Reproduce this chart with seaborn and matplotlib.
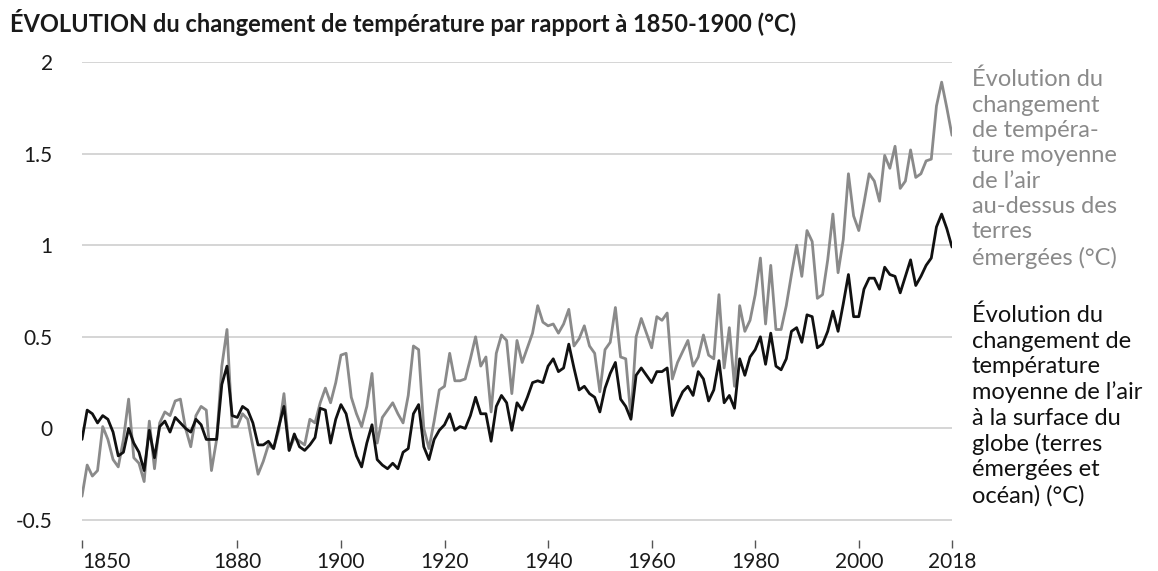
import numpy as np
import pandas as pd
import matplotlib
matplotlib.use("Agg")
import matplotlib.pyplot as plt
import seaborn as sns

# Temperature change relative to 1850-1900
years = list(range(1850, 2019))

land = [
    -0.37, -0.20, -0.26, -0.23, 0.01, -0.06, -0.17, -0.21, -0.06, 0.16,   # 1850s
    -0.16, -0.19, -0.29, 0.04, -0.22, 0.03, 0.09, 0.07, 0.15, 0.16,       # 1860s
    0.00, -0.10, 0.07, 0.12, 0.10, -0.23, -0.06, 0.34, 0.54, 0.01,        # 1870s
    0.01, 0.08, 0.05, -0.10, -0.25, -0.18, -0.09, -0.11, -0.01, 0.19,     # 1880s
    -0.12, -0.05, -0.07, -0.09, 0.05, 0.03, 0.14, 0.22, 0.14, 0.25,       # 1890s
    0.40, 0.41, 0.17, 0.08, 0.01, 0.12, 0.30, -0.08, 0.06, 0.10,          # 1900s
    0.14, 0.08, 0.03, 0.18, 0.45, 0.43, 0.00, -0.11, 0.04, 0.21,          # 1910s
    0.23, 0.41, 0.26, 0.26, 0.27, 0.38, 0.50, 0.34, 0.39, 0.09,           # 1920s
    0.41, 0.51, 0.48, 0.19, 0.48, 0.36, 0.44, 0.52, 0.67, 0.58,           # 1930s
    0.56, 0.57, 0.52, 0.57, 0.65, 0.45, 0.49, 0.56, 0.45, 0.41,           # 1940s
    0.20, 0.43, 0.47, 0.66, 0.39, 0.38, 0.06, 0.50, 0.60, 0.52,           # 1950s
    0.44, 0.61, 0.59, 0.63, 0.27, 0.36, 0.42, 0.48, 0.34, 0.39,           # 1960s
    0.51, 0.40, 0.38, 0.73, 0.33, 0.55, 0.23, 0.67, 0.53, 0.59,           # 1970s
    0.73, 0.93, 0.57, 0.89, 0.54, 0.54, 0.67, 0.84, 1.00, 0.83,           # 1980s
    1.08, 1.02, 0.71, 0.73, 0.92, 1.17, 0.85, 1.03, 1.39, 1.16,           # 1990s
    1.08, 1.23, 1.39, 1.35, 1.24, 1.49, 1.42, 1.54, 1.31, 1.35,           # 2000s
    1.52, 1.37, 1.39, 1.46, 1.47, 1.76, 1.89, 1.75, 1.60,                 # 2010s
]

globe = [
    -0.06, 0.10, 0.08, 0.03, 0.07, 0.05, -0.02, -0.15, -0.13, 0.00,
    -0.08, -0.13, -0.23, -0.01, -0.16, 0.01, 0.04, -0.02, 0.06, 0.03,
    0.00, -0.02, 0.05, 0.02, -0.06, -0.06, -0.06, 0.24, 0.34, 0.07,
    0.06, 0.12, 0.10, 0.03, -0.09, -0.09, -0.07, -0.11, 0.01, 0.12,
    -0.12, -0.03, -0.10, -0.12, -0.09, -0.05, 0.11, 0.10, -0.08, 0.05,
    0.13, 0.08, -0.05, -0.15, -0.21, -0.08, 0.02, -0.17, -0.20, -0.22,
    -0.19, -0.22, -0.13, -0.11, 0.08, 0.13, -0.10, -0.17, -0.06, -0.01,
    0.02, 0.08, -0.01, 0.01, 0.00, 0.07, 0.17, 0.08, 0.08, -0.07,
    0.12, 0.18, 0.14, -0.01, 0.14, 0.10, 0.17, 0.25, 0.26, 0.25,
    0.34, 0.38, 0.31, 0.33, 0.46, 0.33, 0.21, 0.23, 0.19, 0.17,
    0.09, 0.22, 0.30, 0.36, 0.16, 0.12, 0.05, 0.29, 0.33, 0.29,
    0.25, 0.31, 0.31, 0.33, 0.07, 0.14, 0.20, 0.23, 0.18, 0.31,
    0.27, 0.15, 0.21, 0.37, 0.14, 0.18, 0.11, 0.38, 0.29, 0.39,
    0.43, 0.50, 0.35, 0.52, 0.34, 0.32, 0.38, 0.53, 0.55, 0.47,
    0.62, 0.61, 0.44, 0.46, 0.53, 0.64, 0.53, 0.68, 0.84, 0.61,
    0.61, 0.76, 0.82, 0.82, 0.76, 0.88, 0.84, 0.83, 0.74, 0.83,
    0.92, 0.78, 0.83, 0.89, 0.93, 1.10, 1.17, 1.09, 0.99,
]

tick_years = [1850, 1880, 1900, 1920, 1940, 1960, 1980, 2000, 2018]
y_ticks = [-0.5, 0, 0.5, 1, 1.5, 2]
y_labels = ["-0.5", "0", "0.5", "1", "1.5", "2"]

title = "ÉVOLUTION du changement de température par rapport à 1850-1900 (°C)"
land_label = ("Évolution du\nchangement\nde tempéra-\nture moyenne\nde l’air\n"
              "au-dessus des\nterres\némergées (°C)")
globe_label = ("Évolution du\nchangement de\ntempérature\nmoyenne de l’air\n"
               "à la surface du\nglobe (terres\némergées et\nocéan) (°C)")

GRAY = "#8a8a8a"
BLACK = "#111111"

sns.set_theme(style="whitegrid")
plt.rcParams["font.family"] = ["Lato", "DejaVu Sans"]

df = pd.DataFrame({
    "year": years * 2,
    "value": land + globe,
    "series": ["land"] * len(years) + ["globe"] * len(years),
})

fig = plt.figure(figsize=(11.58, 5.71), dpi=100)
ax = fig.add_axes([82 / 1158, 1 - 540 / 571, (952 - 82) / 1158, (540 - 62) / 571])

sns.lineplot(data=df, x="year", y="value", hue="series",
             hue_order=["land", "globe"],
             palette={"land": GRAY, "globe": BLACK},
             linewidth=2.0, legend=False, ax=ax)

ax.set_xlim(1850, 2018)
ax.set_ylim(-0.609, 2.0)
ax.set_xlabel("")
ax.set_ylabel("")

ax.set_yticks(y_ticks)
ax.set_yticklabels(y_labels)
ax.set_xticks(tick_years)
ax.set_xticklabels([str(y) for y in tick_years])
ax.get_xticklabels()[0].set_horizontalalignment("left")

ax.grid(axis="x", visible=False)
ax.grid(axis="y", color="#d2d2d2", linewidth=1.3)
for s in ax.spines.values():
    s.set_visible(False)

ax.tick_params(axis="y", length=0, pad=21, labelsize=15, labelcolor="#1a1a1a")
ax.tick_params(axis="x", length=6, width=1, color="#555555", direction="out",
               pad=3, labelsize=15, labelcolor="#1a1a1a", bottom=True)

fig.text(10 / 1158, 1 - 22 / 571, title, fontsize=17, fontweight="bold",
         color="#1a1a1a", ha="left", va="center")

fig.text(972 / 1158, 1 - 69 / 571, land_label, fontsize=17, color=GRAY,
         ha="left", va="top", linespacing=1.25)
fig.text(972 / 1158, 1 - 305 / 571, globe_label, fontsize=17, color=BLACK,
         ha="left", va="top", linespacing=1.25)

fig.savefig("out.png", dpi=100)
